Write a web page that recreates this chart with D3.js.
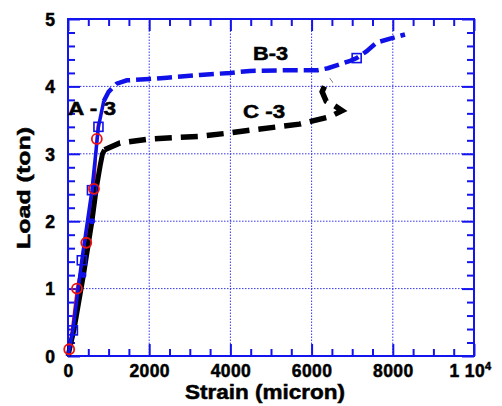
<!DOCTYPE html>
<html>
<head>
<meta charset="utf-8">
<script src="https://cdn.jsdelivr.net/npm/d3@7"></script>
<style>
  html, body { margin: 0; padding: 0; background: #fff; }
  svg { display: block; font-family: "Liberation Sans", Arial, sans-serif; font-weight: bold; }
  .heavy { stroke: #000; stroke-width: 0.5px; paint-order: stroke; }
</style>
</head>
<body>
<svg id="chart" width="502" height="406"></svg>
<script>
// Load–strain curves for specimens A-3, B-3 and C-3
const a3Strain = [0, 30, 80, 220, 450, 640, 710, 740];
const a3Load   = [0, 0.10, 0.30, 1.00, 1.68, 2.48, 3.22, 3.45];
const a3Marks  = [1, 3, 4, 5, 6];          // indices carrying circle markers

const b3Strain = [0, 120, 340, 590, 750, 880, 1000, 1200, 1450, 2000, 2440, 3250, 4000, 4480, 5500, 6150, 6400, 6950, 7110, 7350, 7600, 8000, 8300];
const b3Load   = [0, 0.38, 1.42, 2.46, 3.40, 3.78, 3.92, 4.04, 4.09, 4.11, 4.13, 4.17, 4.20, 4.23, 4.24, 4.24, 4.27, 4.38, 4.42, 4.52, 4.65, 4.72, 4.77];
const b3Marks  = [1, 2, 3, 4, 18];          // indices carrying square markers
const b3Yield  = 5;                          // last index of the solid elastic part

const c3Strain = [0, 150, 380, 590, 700, 800, 850, 900, 1280, 2020, 3250, 3990, 4480, 5700, 6450, 6750, 6550, 6360, 6260, 6330, 6490];
const c3Load   = [0, 0.40, 1.20, 2.00, 2.50, 2.85, 3.00, 3.06, 3.16, 3.22, 3.26, 3.31, 3.35, 3.44, 3.55, 3.64, 3.72, 3.78, 3.92, 4.02, 4.09];
const c3Marks  = [2, 3];                     // indices carrying dot markers
const c3Yield  = 7;

const xTicks = [0, 2000, 4000, 6000, 8000, 10000];
const xTickLabels = ["0", "2000", "4000", "6000", "8000", "1 10"];
const yTicks = [0, 1, 2, 3, 4, 5];
const yTickLabels = ["0", "1", "2", "3", "4", "5"];

const AXIS = "#1414ee", BLUE = "#1010e8", RED = "#ee1111", BLACK = "#000";

const svg = d3.select("#chart");
const x = d3.scaleLinear().domain([0, 10000]).range([68, 474]);
const y = d3.scaleLinear().domain([0, 5]).range([356, 19]);
const [x0, x1] = x.range(), [y0, y1] = y.range();

// dotted grid at major ticks
const grid = svg.append("g").attr("stroke", AXIS).attr("stroke-width", 1)
  .attr("stroke-dasharray", "1.5,1.5").attr("opacity", 0.85);
grid.selectAll("line.gx").data(xTicks.slice(1, -1)).join("line")
  .attr("x1", d => x(d)).attr("x2", d => x(d)).attr("y1", y0).attr("y2", y1);
grid.selectAll("line.gy").data(yTicks.slice(1, -1)).join("line")
  .attr("y1", d => y(d)).attr("y2", d => y(d)).attr("x1", x0).attr("x2", x1);

// inward ticks on all four sides
const minorX = d3.range(0, 10001, 500).filter(v => v % 2000 !== 0);
const minorY = d3.range(0, 5.001, 0.2).map(v => +v.toFixed(1)).filter(v => Math.abs(v - Math.round(v)) > 1e-6);

function frameAxis(gen, tr, ticks, size) {
  const g = svg.append("g").attr("transform", tr)
    .call(gen.tickValues(ticks).tickSize(size).tickFormat(""));
  g.select(".domain").remove();
  g.selectAll("line").attr("stroke", AXIS).attr("stroke-width", 2);
}
frameAxis(d3.axisBottom(x), `translate(0,${y0})`, xTicks, -12);
frameAxis(d3.axisBottom(x), `translate(0,${y0})`, minorX, -7);
frameAxis(d3.axisTop(x), `translate(0,${y1})`, xTicks, -12);
frameAxis(d3.axisTop(x), `translate(0,${y1})`, minorX, -7);
frameAxis(d3.axisLeft(y), `translate(${x0},0)`, yTicks, -12);
frameAxis(d3.axisLeft(y), `translate(${x0},0)`, minorY, -7);
frameAxis(d3.axisRight(y), `translate(${x1},0)`, yTicks, -12);
frameAxis(d3.axisRight(y), `translate(${x1},0)`, minorY, -7);

svg.append("rect").attr("x", x0).attr("y", y1).attr("width", x1 - x0).attr("height", y0 - y1)
  .attr("fill", "none").attr("stroke", AXIS).attr("stroke-width", 2);

// tick labels
const xl = svg.append("g").attr("transform", `translate(0,${y0})`)
  .call(d3.axisBottom(x).tickValues(xTicks).tickSize(0).tickPadding(0)
    .tickFormat((d, i) => xTickLabels[i]));
xl.select(".domain").remove();
xl.selectAll("text").attr("class", "heavy").attr("y", 21).attr("dy", 0).attr("font-size", 17.5)
  .attr("font-family", "'Liberation Sans', Arial, sans-serif").attr("font-weight", "bold")
  .attr("fill", "#000").attr("letter-spacing", 0.4);
xl.selectAll("text").filter((d, i) => i === xTickLabels.length - 1)
  .attr("text-anchor", "middle").attr("dx", -4)
  .append("tspan").attr("font-size", 11).attr("dy", -7).text("4");

const yl = svg.append("g").attr("transform", `translate(${x0},0)`)
  .call(d3.axisLeft(y).tickValues(yTicks).tickSize(0).tickPadding(0)
    .tickFormat((d, i) => yTickLabels[i]));
yl.select(".domain").remove();
yl.selectAll("text").attr("class", "heavy").attr("x", -13).attr("dy", "0.36em").attr("font-size", 17.5)
  .attr("font-family", "'Liberation Sans', Arial, sans-serif").attr("font-weight", "bold")
  .attr("fill", "#000");

// axis titles
svg.append("text").attr("class", "heavy").attr("x", 265).attr("y", 399).attr("text-anchor", "middle")
  .attr("font-size", 20).attr("textLength", 160).attr("lengthAdjust", "spacingAndGlyphs")
  .text("Strain (micron)");
svg.append("text").attr("class", "heavy").attr("transform", "translate(30,188) rotate(-90)").attr("text-anchor", "middle")
  .attr("font-size", 19).attr("textLength", 122).attr("lengthAdjust", "spacingAndGlyphs")
  .text("Load (ton)");

// curve labels
function label(txt, lx, ly, w) {
  svg.append("text").attr("class", "heavy").attr("x", lx).attr("y", ly).attr("font-size", 18)
    .attr("textLength", w).attr("lengthAdjust", "spacingAndGlyphs").text(txt);
}
label("A - 3", 68, 115, 48);
label("B-3", 253, 60, 35);
label("C -3", 243, 118, 42);

// curves
const pts = (xs, ys) => xs.map((v, i) => [x(v), y(ys[i])]);
const line = d3.line();
const a3 = pts(a3Strain, a3Load), b3 = pts(b3Strain, b3Load), c3 = pts(c3Strain, c3Load);

svg.append("path").attr("d", line(a3)).attr("fill", "none").attr("stroke", RED).attr("stroke-width", 2.5);

svg.append("path").attr("d", line(c3.slice(0, c3Yield + 1))).attr("fill", "none")
  .attr("stroke", BLACK).attr("stroke-width", 5);
svg.append("path").attr("d", line(c3.slice(c3Yield))).attr("fill", "none")
  .attr("stroke", BLACK).attr("stroke-width", 5.5).attr("stroke-dasharray", "17,9");

svg.append("path").attr("d", line(b3.slice(0, b3Yield + 1))).attr("fill", "none")
  .attr("stroke", BLUE).attr("stroke-width", 3.5);
svg.append("path").attr("d", line(b3.slice(b3Yield))).attr("fill", "none")
  .attr("stroke", BLUE).attr("stroke-width", 4.5).attr("stroke-dasharray", "15,6");

// markers
svg.append("g").selectAll("circle").data(c3Marks).join("circle")
  .attr("cx", i => c3[i][0]).attr("cy", i => c3[i][1]).attr("r", 3).attr("fill", BLUE);
svg.append("g").selectAll("rect").data(b3Marks).join("rect")
  .attr("x", i => b3[i][0] - 4.5).attr("y", i => b3[i][1] - 4.5).attr("width", 9).attr("height", 9)
  .attr("fill", "none").attr("stroke", BLUE).attr("stroke-width", 1.6);
svg.append("g").selectAll("circle").data(a3Marks).join("circle")
  .attr("cx", i => a3[i][0]).attr("cy", i => a3[i][1]).attr("r", 5)
  .attr("fill", "none").attr("stroke", RED).attr("stroke-width", 1.8);
</script>
</body>
</html>
